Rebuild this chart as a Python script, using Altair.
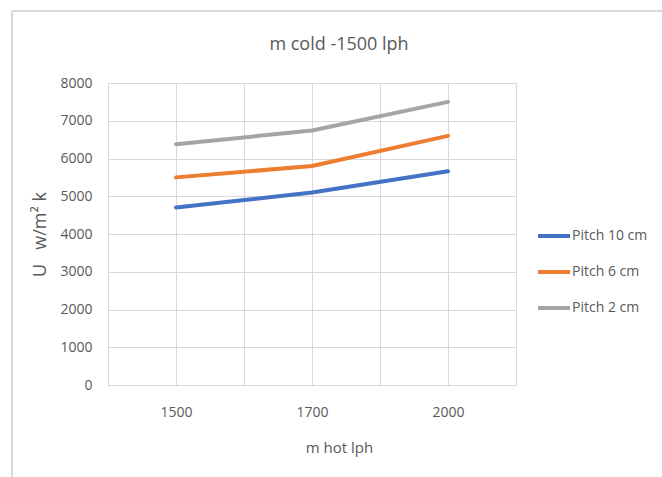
import altair as alt
import pandas as pd

categories = ["1500", "1700", "2000"]
series = ["Pitch 10 cm", "Pitch 6 cm", "Pitch 2 cm"]
pitch_10 = [4700, 5100, 5660]
pitch_6 = [5500, 5800, 6600]
pitch_2 = [6380, 6740, 7500]
colors = ["#4472C4", "#ED7D31", "#A5A5A5"]

rows = []
for name, vals in zip(series, [pitch_10, pitch_6, pitch_2]):
    for i, (c, v) in enumerate(zip(categories, vals)):
        rows.append({"series": name, "m_hot": c, "pos": 2 * i + 1, "U": v})
df = pd.DataFrame(rows)

label_expr = " : ".join(
    f"datum.value == {2 * i + 1} ? '{c}'" for i, c in enumerate(categories)
) + " : ''"

FONT = "Open Sans"
TXT = "#595959"
GRID = "#D9D9D9"

lines = alt.Chart(df).mark_line(strokeWidth=4, strokeCap="round", strokeJoin="round").encode(
    x=alt.X(
        "pos:Q",
        scale=alt.Scale(domain=[0, 6], nice=False, zero=False),
        axis=alt.Axis(
            values=[0, 1, 2, 3, 4, 5, 6],
            labelExpr=label_expr,
            title="m hot lph",
            grid=True,
            gridColor=GRID,
            ticks=False,
            tickSize=0,
            domain=True,
            domainColor=GRID,
            labelPadding=20,
            labelFontSize=14,
            labelColor=TXT,
            labelFont=FONT,
            titleFont=FONT,
            titleFontSize=15,
            titleFontWeight="normal",
            titleColor=TXT,
            titleX=231,
            titleY=62,
            titleBaseline="middle",
            titleAlign="center",
            labelFlush=False,
            labelOverlap=False,
        ),
    ),
    y=alt.Y(
        "U:Q",
        scale=alt.Scale(domain=[0, 8000], nice=False),
        axis=alt.Axis(
            values=list(range(0, 8001, 1000)),
            format="d",
            title="U\u00a0\u00a0\u00a0w/m² k",
            grid=True,
            gridColor=GRID,
            ticks=False,
            tickSize=0,
            domain=False,
            labelPadding=16,
            labelFontSize=14,
            labelColor=TXT,
            labelFont=FONT,
            titleFont=FONT,
            titleFontSize=18,
            titleFontWeight="normal",
            titleColor=TXT,
            titleX=-68,
            titleY=151,
            titleAngle=270,
            titleBaseline="middle",
            titleAlign="center",
        ),
    ),
    color=alt.Color(
        "series:N",
        scale=alt.Scale(domain=series, range=colors),
        legend=alt.Legend(
            title=None,
            orient="none",
            legendX=428,
            legendY=135,
            symbolType="stroke",
            symbolSize=1024,
            symbolStrokeWidth=4,
            labelFontSize=14,
            labelFont=FONT,
            labelColor=TXT,
            labelOffset=0,
            rowPadding=10,
            padding=0,
        ),
    ),
    detail="series:N",
)

border_top = alt.Chart(df).mark_rule(color=GRID, strokeWidth=1.5).encode(
    x=alt.value(-96), x2=alt.value(560), y=alt.value(-72)
)
border_left = alt.Chart(df).mark_rule(color=GRID, strokeWidth=1.5).encode(
    x=alt.value(-96), y=alt.value(-72), y2=alt.value(400)
)

chart = alt.layer(border_top, border_left, lines).properties(
    width=408,
    height=302,
    title=alt.TitleParams(
        "m cold -1500 lph",
        font=FONT,
        fontSize=18,
        fontWeight="normal",
        color=TXT,
        anchor="middle",
        dx=27,
        dy=90,
        offset=32,
        baseline="alphabetic",
    ),
    autosize=alt.AutoSizeParams(type="none"),
    padding={"left": 108, "top": 83, "right": 146, "bottom": 92},
).configure_view(stroke=None).configure(background="white")

chart.save("out.html", embed_options={"renderer": "svg", "actions": False})
